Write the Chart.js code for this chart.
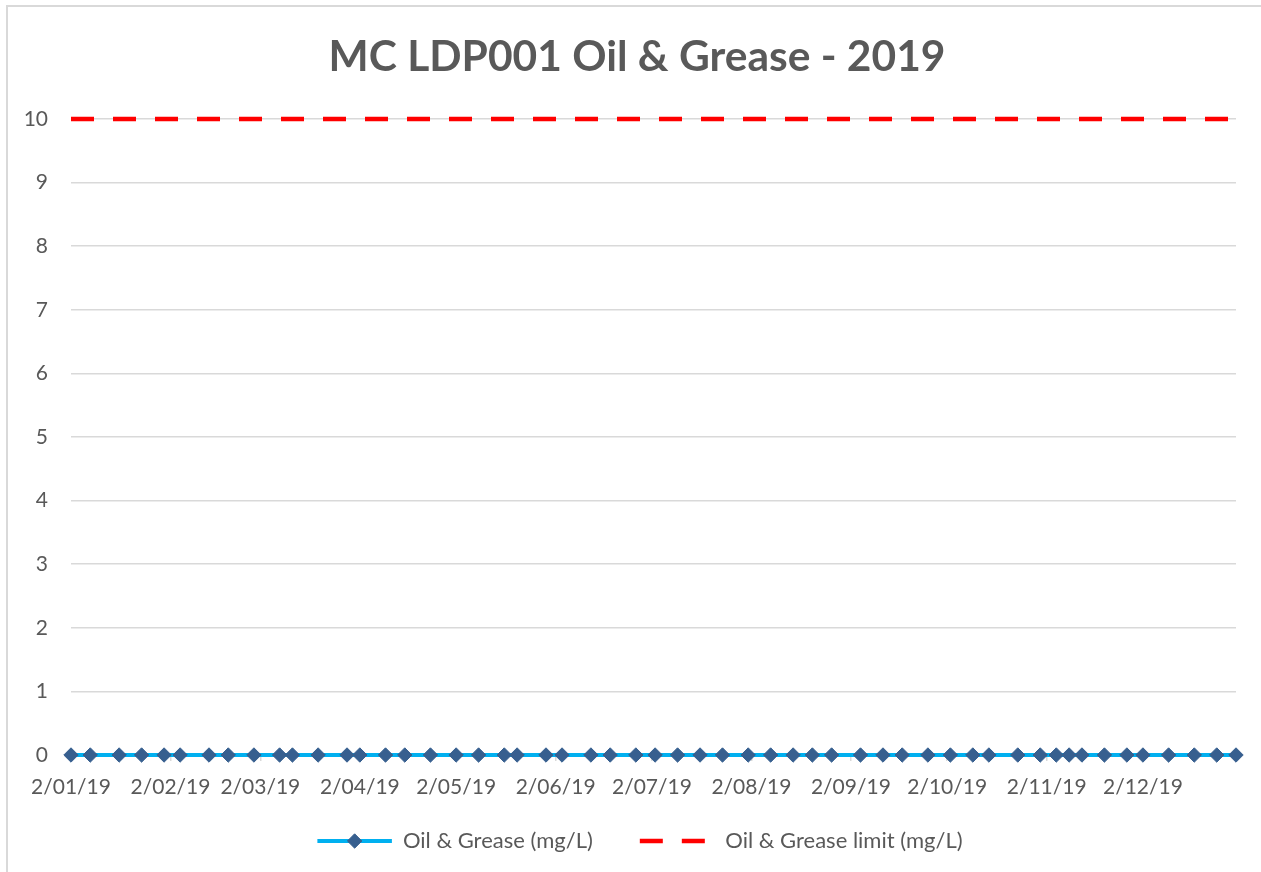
<!DOCTYPE html>
<html>
<head>
<meta charset="utf-8">
<script src="https://cdn.jsdelivr.net/npm/chart.js@4.4.1/dist/chart.umd.min.js"></script>
<style>
html,body{margin:0;padding:0;background:#ffffff;overflow:hidden;}
#wrap{width:1261px;height:872px;position:relative;}
</style>
</head>
<body>
<div id="wrap"><canvas id="c" width="1261" height="872"></canvas></div>
<script>
// ---------- data ----------
const chartTitle = 'MC LDP001 Oil & Grease - 2019';
const seriesNames = ['Oil & Grease (mg/L)', 'Oil & Grease limit (mg/L)'];

const sampleDates = [
  '2019-01-02','2019-01-08','2019-01-17','2019-01-24','2019-01-31',
  '2019-02-05','2019-02-14','2019-02-20','2019-02-28',
  '2019-03-08','2019-03-12','2019-03-20','2019-03-29',
  '2019-04-02','2019-04-10','2019-04-16','2019-04-24',
  '2019-05-02','2019-05-09','2019-05-17','2019-05-21','2019-05-30',
  '2019-06-04','2019-06-13','2019-06-19','2019-06-27',
  '2019-07-03','2019-07-10','2019-07-17','2019-07-24',
  '2019-08-01','2019-08-08','2019-08-15','2019-08-21','2019-08-27',
  '2019-09-05','2019-09-12','2019-09-18','2019-09-26',
  '2019-10-03','2019-10-10','2019-10-15','2019-10-24','2019-10-31',
  '2019-11-05','2019-11-09','2019-11-13','2019-11-20','2019-11-27',
  '2019-12-02','2019-12-10','2019-12-18','2019-12-25','2019-12-31'
];
const oilGrease = [
  0,0,0,0,0,
  0,0,0,0,
  0,0,0,0,
  0,0,0,0,
  0,0,0,0,0,
  0,0,0,0,
  0,0,0,0,
  0,0,0,0,0,
  0,0,0,0,
  0,0,0,0,0,
  0,0,0,0,0,
  0,0,0,0,0
];
const limitDates = ['2019-01-02', '2019-12-31'];
const limitValues = [10, 10];

const xTickLabels = ['2/01/19','2/02/19','2/03/19','2/04/19','2/05/19','2/06/19',
                     '2/07/19','2/08/19','2/09/19','2/10/19','2/11/19','2/12/19'];
const yMin = 0, yMax = 10, yStep = 1;

// ---------- helpers ----------
const DAY = 86400000;
function isoToMs(s){ const p = s.split('-').map(Number); return Date.UTC(p[0], p[1]-1, p[2]); }
function dmyToMs(s){ const p = s.split('/').map(Number); return Date.UTC(2000 + p[2], p[1]-1, p[0]); }
const originMs = isoToMs(sampleDates[0]);
const toDay = ms => Math.round((ms - originMs) / DAY);
function fmtDay(d){
  const dt = new Date(originMs + d * DAY);
  const mm = String(dt.getUTCMonth()+1).padStart(2,'0');
  const yy = String(dt.getUTCFullYear()).slice(2);
  return dt.getUTCDate() + '/' + mm + '/' + yy;
}
const xTickValues = xTickLabels.map(l => toDay(dmyToMs(l)));
const ogPoints = sampleDates.map((d,i) => ({x: toDay(isoToMs(d)), y: oilGrease[i]}));
const limPoints = limitDates.map((d,i) => ({x: toDay(isoToMs(d)), y: limitValues[i]}));

const TXT = '#595959';
const GRID = '#D9D9D9';
const FONT = 'Lato, "Open Sans", sans-serif';

const decor = {
  id: 'decor',
  afterLayout(chart){
    const lg = chart.legend;
    if (lg) {
      const dx = 12, dy = -16;
      lg.left += dx; lg.right += dx;
      lg.top += dy; lg.bottom += dy;
    }
    const tb = chart.titleBlock;
    if (tb) { tb.left += 9; tb.right += 9; }
  },
  beforeDraw(chart){
    const c = chart.ctx;
    c.save();
    c.strokeStyle = '#D9D9D9';
    c.lineWidth = 2;
    c.beginPath();
    c.moveTo(7, 900); c.lineTo(7, 6); c.lineTo(1300, 6);
    c.stroke();
    c.restore();
  },
  afterDraw(chart){
    const lg = chart.legend;
    if (!lg || !lg.legendHitBoxes || !lg.legendHitBoxes.length) return;
    const hb = lg.legendHitBoxes[0];
    const bw = lg.options.labels.boxWidth;
    const ds = chart.data.datasets[0];
    const c = chart.ctx;
    c.save();
    c.fillStyle = ds.pointBackgroundColor;
    c.strokeStyle = ds.pointBorderColor;
    c.lineWidth = 1;
    Chart.helpers.drawPoint(c, {pointStyle: 'rectRot', radius: ds.pointRadius, rotation: 0, borderWidth: 1},
      hb.left + bw / 2, hb.top + hb.height / 2);
    c.restore();
  }
};

new Chart(document.getElementById('c'), {
  type: 'line',
  data: {
    datasets: [
      {
        label: seriesNames[0],
        data: ogPoints,
        borderColor: '#00B0F0',
        backgroundColor: 'rgba(0,0,0,0)',
        borderWidth: 4,
        borderCapStyle: 'round',
        pointStyle: 'rectRot',
        pointRadius: 7.2,
        pointHoverRadius: 7.2,
        pointBackgroundColor: '#375F8F',
        pointBorderColor: '#375F8F',
        pointBorderWidth: 1,
        tension: 0,
        clip: false
      },
      {
        label: seriesNames[1],
        data: limPoints,
        borderColor: '#FF0000',
        backgroundColor: 'rgba(0,0,0,0)',
        borderWidth: 4.5,
        borderDash: [23, 19],
        borderCapStyle: 'butt',
        pointRadius: 0,
        pointHoverRadius: 0,
        tension: 0,
        clip: false
      }
    ]
  },
  options: {
    responsive: false,
    animation: false,
    devicePixelRatio: 1,
    layout: { padding: { left: 20, right: 25, top: 0, bottom: 0 } },
    plugins: {
      title: {
        display: true,
        text: chartTitle,
        color: TXT,
        font: { family: FONT, size: 42.5, weight: 'bold', lineHeight: 1.2 },
        padding: { top: 32, bottom: 36 }
      },
      legend: {
        position: 'bottom',
        maxHeight: 73,
        labels: {
          color: TXT,
          font: { family: FONT, size: 22 },
          boxWidth: 74.5,
          boxHeight: 0,
          padding: 47
        }
      },
      tooltip: { enabled: false }
    },
    scales: {
      x: {
        type: 'linear',
        min: ogPoints[0].x,
        max: ogPoints[ogPoints.length - 1].x,
        afterBuildTicks: s => { s.ticks = xTickValues.map(v => ({value: v})); },
        afterFit: s => { s.height = 44; },
        grid: { drawOnChartArea: false, drawTicks: true, tickLength: 6, color: GRID, lineWidth: 1.5 },
        border: { display: true, color: GRID, width: 1.5 },
        ticks: {
          autoSkip: false,
          maxRotation: 0,
          padding: 14,
          color: TXT,
          font: { family: FONT, size: 21 },
          callback: v => fmtDay(v)
        }
      },
      y: {
        min: yMin,
        max: yMax,
        afterFit: s => { s.width = 51; },
        grid: { color: GRID, lineWidth: 1.5, drawTicks: false },
        border: { display: false },
        ticks: {
          stepSize: yStep,
          padding: 23,
          color: TXT,
          font: { family: FONT, size: 21 }
        }
      }
    }
  },
  plugins: [decor]
});
</script>
</body>
</html>
